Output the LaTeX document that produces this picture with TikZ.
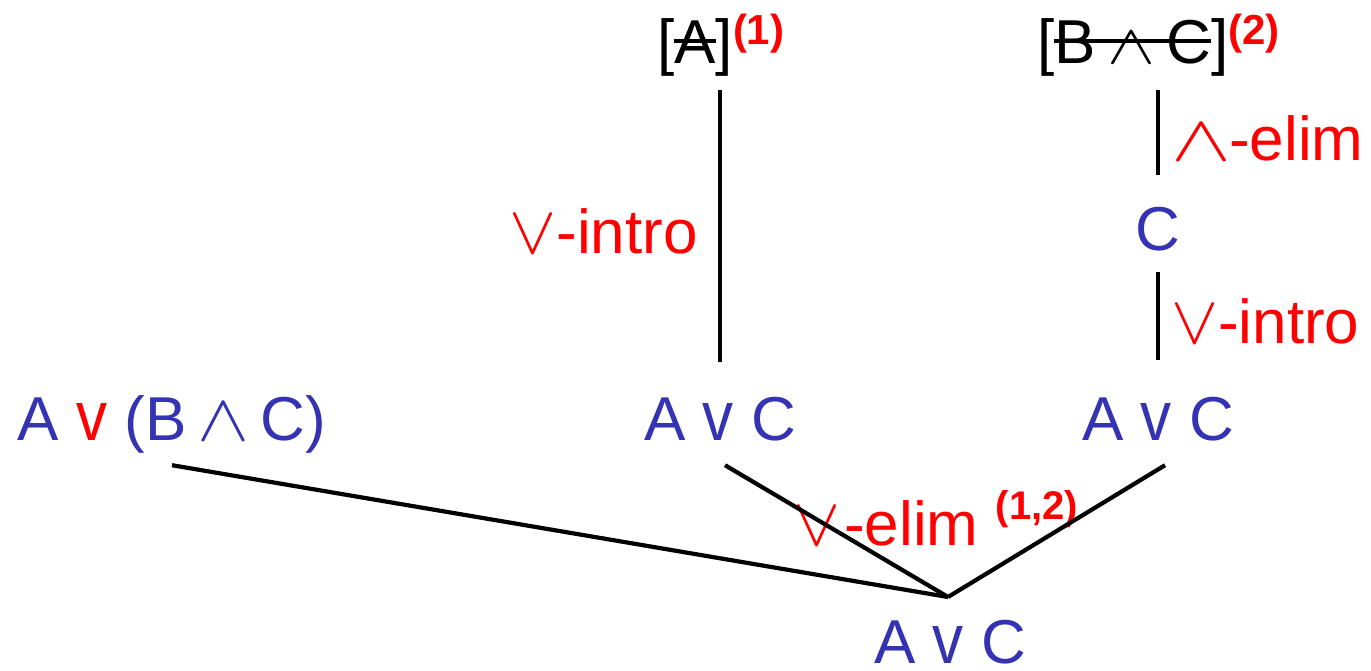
\documentclass[tikz,border=0pt]{standalone}
\usepackage{fontspec}
\usepackage{graphicx}
\setmainfont{Liberation Sans}
\definecolor{fblue}{RGB}{51,51,179}
\definecolor{lred}{RGB}{255,0,0}
\newcommand\strk[1]{\setbox0\hbox{#1}\rlap{\rule[20pt]{\wd0}{4pt}}\box0}
\newcommand\bigf{\fontsize{62}{74}\selectfont}
\newcommand\supf{\fontsize{42}{50}\selectfont\bfseries}
\newcommand\supg{\fontsize{40}{46}\selectfont\bfseries}
% symbols: \msym{width}{height}{symbol}{side correction}
\newcommand\msym[4]{\hspace{#4}\resizebox{#1}{#2}{\fontsize{10}{12}\selectfont$#3$}\hspace{#4}}
\newcommand\fv{\resizebox{31pt}{37pt}{v}}
\newcommand\lv{\msym{47pt}{38pt}{\vee}{0pt}}
\newcommand\lw{\msym{60pt}{36pt}{\wedge}{-2pt}}
\newcommand\fw{\msym{52pt}{37pt}{\wedge}{-6pt}}
\newcommand\hw{\msym{48pt}{31pt}{\wedge}{-6pt}}
\begin{document}
\begin{tikzpicture}[x=1pt,y=-1pt,
  formula/.style={text=fblue, font=\bigf, inner sep=0pt, text height=45pt, text depth=13pt},
  hyp/.style={text=black, font=\bigf, inner sep=0pt, text height=45pt, text depth=13pt},
  rulelbl/.style={text=lred, font=\bigf, inner sep=0pt},
  conn/.style={line width=4.2pt, black}]
\useasboundingbox (0,0) rectangle (1371,670);
% hypotheses
\node[hyp, anchor=base west] (hA) at (657,63) {[\strk{A}]\raisebox{19pt}{\supf\color{lred}(1)}};
\node[hyp, anchor=base west] (hBC) at (1037,63) {[\strk{B \hw{} C}]\raisebox{19pt}{\supf\color{lred}(2)}};
% formulas
\node[formula, anchor=base] (C) at (1158,250) {C};
\node[formula, anchor=base] (avcM) at (720,440) {A \fv{} C};
\node[formula, anchor=base] (avcR) at (1158,440) {A \fv{} C};
\node[formula, anchor=base] (L) at (172,440) {A {\color{lred}\fv} (B \fw{} C)};
\node[formula, anchor=base, text depth=0pt] (bot) at (950,663) {A \fv{} C};
\coordinate (apex) at (948,597);
% rule labels
\node[rulelbl, anchor=base east] (l1) at (698,253) {\lv{}-intro};
\node[rulelbl, anchor=base west] (l2) at (1173,160) {\lw{}-elim};
\node[rulelbl, anchor=base west] (l3) at (1171,343) {\lv{}-intro};
\node[rulelbl, anchor=base west] (l4) at (793,545) {\lv{}\hspace{4pt}-elim \raisebox{26pt}{\supg (1,2)}};
% connectors
\draw[conn, shorten <=14pt, shorten >=33pt] (hA.south -| avcM) -- (avcM.north);
\draw[conn, shorten <=14pt, shorten >=30pt] (hBC.south -| C) -- (C.north);
\draw[conn, shorten <=9pt, shorten >=35pt] (C.south) -- (avcR.north);
\draw[conn] (L.south) ++(0,12) -- (apex);
\draw[conn] (avcM.south) ++(5,12) -- (apex);
\draw[conn] (avcR.south) ++(7,12) -- (apex);
\end{tikzpicture}
\end{document}
